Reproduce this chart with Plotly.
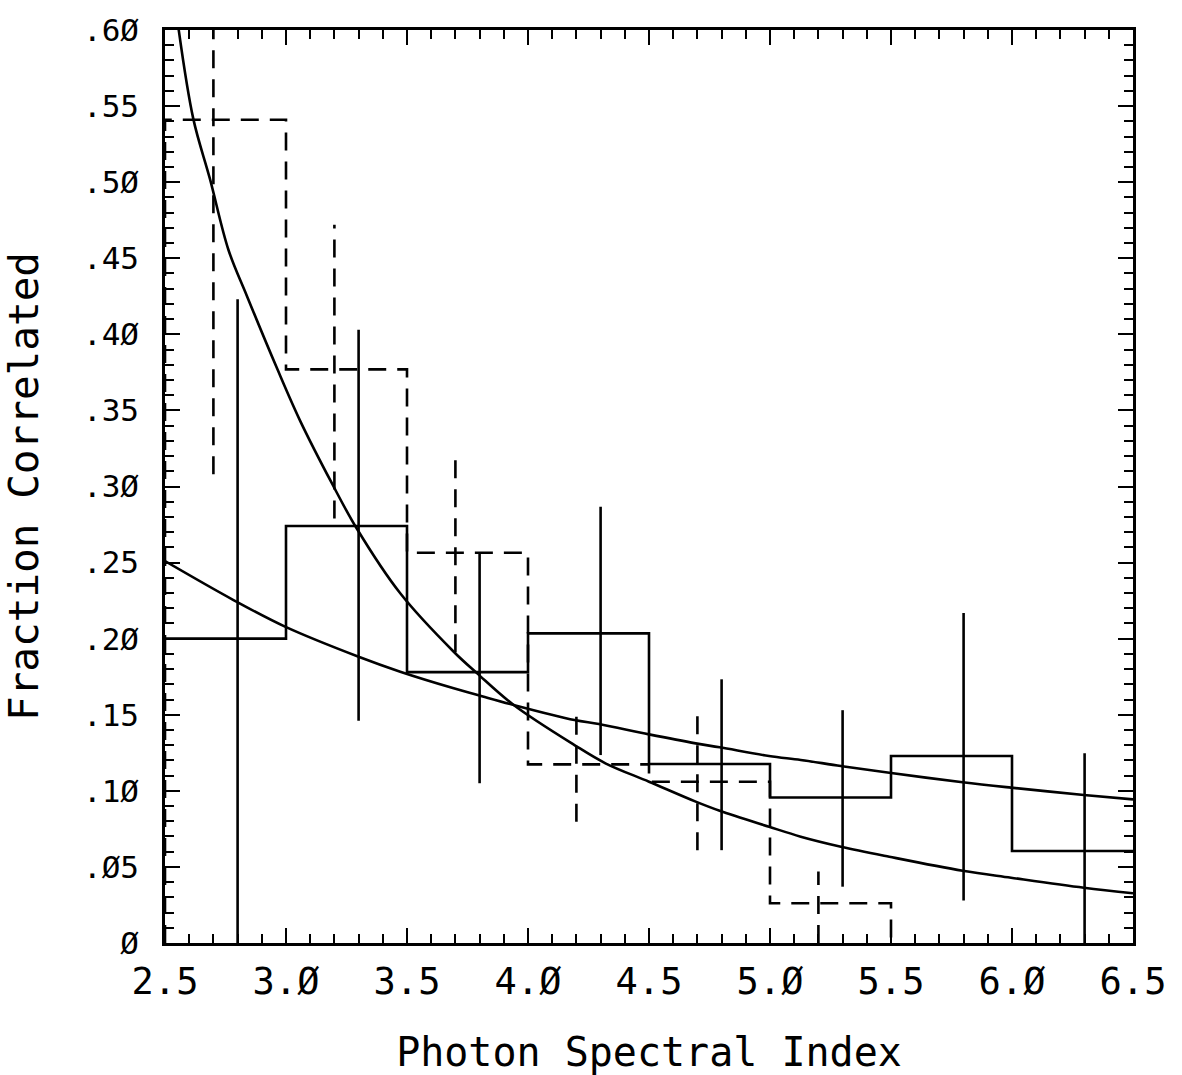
import plotly.graph_objects as go

# ---------------- data ----------------
bin_edges = [2.5, 3.0, 3.5, 4.0, 4.5, 5.0, 5.5, 6.0, 6.5]

solid_hist = [0.200, 0.274, 0.178, 0.2035, 0.1176, 0.0956, 0.1229, 0.0605]
dashed_hist = [0.541, 0.377, 0.2565, 0.1174, 0.106, 0.0261, 0.0, 0.0]

solid_err_x = [2.8, 3.3, 3.8, 4.3, 4.8, 5.3, 5.8, 6.3]
solid_err_lo = [0.0, 0.146, 0.105, 0.1235, 0.061, 0.037, 0.028, 0.0]
solid_err_hi = [0.423, 0.403, 0.256, 0.2867, 0.1733, 0.153, 0.2168, 0.1247]

dashed_err_x = [2.7, 3.2, 3.7, 4.2, 4.7, 5.2]
dashed_err_lo = [0.308, 0.279, 0.191, 0.0797, 0.061, 0.0]
dashed_err_hi = [0.77, 0.472, 0.321, 0.1487, 0.151, 0.047]

steep_x = [2.555, 2.617, 2.686, 2.762, 2.838, 2.962, 3.059, 3.190, 3.293,
           3.472, 3.693, 3.790, 3.941, 4.192, 4.320, 4.500, 4.693, 4.792,
           4.996, 5.127, 5.293, 5.493, 5.796, 5.996, 6.297, 6.500]
steep_y = [0.602, 0.5416, 0.502, 0.4556, 0.4254, 0.378, 0.343, 0.302, 0.2722,
           0.2298, 0.1914, 0.1772, 0.1564, 0.1301, 0.1181, 0.106, 0.0929, 0.0869,
           0.0764, 0.0699, 0.0633, 0.0567, 0.0475, 0.0429, 0.0363, 0.0327]

shallow_x = [2.5, 2.783, 2.996, 3.30, 3.472, 3.693, 3.792, 3.941, 4.192, 4.293,
             4.500, 4.693, 4.792, 4.996, 5.127, 5.293, 5.493, 5.796, 5.996,
             6.297, 6.500]
shallow_y = [0.251, 0.2254, 0.2079, 0.1881, 0.1783, 0.1674, 0.163, 0.1564, 0.1465,
             0.1439, 0.1371, 0.1312, 0.1286, 0.1229, 0.1203, 0.1163, 0.1119, 0.1056,
             0.1021, 0.0973, 0.0944]

x_tick_vals = [2.5, 3.0, 3.5, 4.0, 4.5, 5.0, 5.5, 6.0, 6.5]
x_tick_text = ["2.5", "3.Ø", "3.5", "4.Ø", "4.5", "5.Ø", "5.5", "6.Ø", "6.5"]
y_tick_vals = [0, 0.05, 0.10, 0.15, 0.20, 0.25, 0.30, 0.35, 0.40, 0.45, 0.50, 0.55, 0.60]
y_tick_text = ["Ø", ".Ø5", ".1Ø", ".15", ".2Ø", ".25", ".3Ø", ".35", ".4Ø", ".45",
               ".5Ø", ".55", ".6Ø"]

FONT = "DejaVu Sans Mono"
INK = "black"
DASH = "18px,11px"
LW = 2.6


def stairs(values, start_zero=False, stop_at_zero=False):
    vals = list(values)
    n = len(vals)
    if stop_at_zero:
        while n > 1 and vals[n - 1] == 0 and vals[n - 2] == 0:
            n -= 1
    xs = list(bin_edges[:n + 1])
    ys = vals[:n] + [vals[n - 1]]
    if start_zero:
        xs = [bin_edges[0]] + xs
        ys = [0.0] + ys
    if stop_at_zero and ys[-1] == 0:
        xs = xs[:-1]
        ys = ys[:-1]
    return xs, ys


def segments(xc, lo, hi):
    xs, ys = [], []
    for x, a, b in zip(xc, lo, hi):
        xs += [x, x, None]
        ys += [a, b, None]
    return xs, ys


fig = go.Figure()

sx, sy = stairs(solid_hist)
fig.add_trace(go.Scatter(x=sx, y=sy, mode="lines", line_shape="hv",
                         line=dict(color=INK, width=LW), name="solid histogram",
                         showlegend=False))

dx, dy = stairs(dashed_hist, start_zero=True, stop_at_zero=True)
fig.add_trace(go.Scatter(x=dx, y=dy, mode="lines", line_shape="hv",
                         line=dict(color=INK, width=LW, dash=DASH),
                         name="dashed histogram", showlegend=False))

ex, ey = segments(solid_err_x, solid_err_lo, solid_err_hi)
fig.add_trace(go.Scatter(x=ex, y=ey, mode="lines", line=dict(color=INK, width=LW),
                         name="solid errors", showlegend=False, connectgaps=False))

ex2, ey2 = segments(dashed_err_x, dashed_err_lo, dashed_err_hi)
fig.add_trace(go.Scatter(x=ex2, y=ey2, mode="lines",
                         line=dict(color=INK, width=LW, dash=DASH),
                         name="dashed errors", showlegend=False, connectgaps=False))

fig.add_trace(go.Scatter(x=steep_x, y=steep_y, mode="lines", line_shape="spline",
                         line=dict(color=INK, width=LW), name="steep fit",
                         showlegend=False))
fig.add_trace(go.Scatter(x=shallow_x, y=shallow_y, mode="lines", line_shape="spline",
                         line=dict(color=INK, width=LW), name="shallow fit",
                         showlegend=False))

fig.update_layout(
    width=1182, height=1075,
    margin=dict(l=165, r=49, t=30, b=132, autoexpand=False),
    paper_bgcolor="white", plot_bgcolor="white",
    font=dict(family=FONT, color=INK),
    showlegend=False,
)

fig.update_xaxes(
    range=[2.5, 6.5], tickvals=x_tick_vals, ticktext=x_tick_text,
    ticks="inside", ticklen=15, tickwidth=2, tickcolor=INK,
    minor=dict(dtick=0.1, tick0=2.5, ticks="inside", ticklen=9, tickwidth=2, tickcolor=INK),
    showline=True, linecolor=INK, linewidth=2.6, mirror="allticks",
    showgrid=False, zeroline=False, automargin=False,
    tickfont=dict(family=FONT, size=37, color=INK), ticklabelstandoff=4,
    title=dict(text="Photon Spectral Index", font=dict(family=FONT, size=40, color=INK),
               standoff=50),
)
fig.update_yaxes(
    range=[0, 0.60], tickvals=y_tick_vals, ticktext=y_tick_text,
    ticks="inside", ticklen=15, tickwidth=2, tickcolor=INK,
    minor=dict(dtick=0.01, tick0=0, ticks="inside", ticklen=9, tickwidth=2, tickcolor=INK),
    showline=True, linecolor=INK, linewidth=2.6, mirror="allticks",
    showgrid=False, zeroline=False, automargin=False,
    tickfont=dict(family=FONT, size=31, color=INK), ticklabelstandoff=17,
    title=dict(text="Fraction Correlated", font=dict(family=FONT, size=41, color=INK),
               standoff=33),
)

fig.write_html("out.html")
